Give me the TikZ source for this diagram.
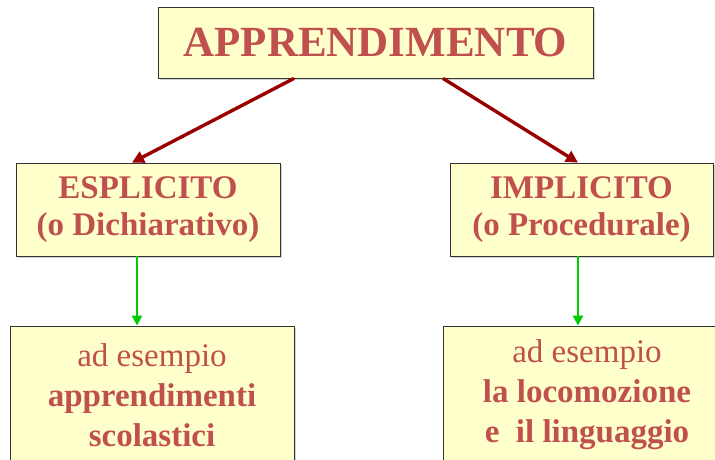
\documentclass[tikz,border=0pt]{standalone}
\usepackage{fontspec}
\setmainfont{Liberation Serif}
\usetikzlibrary{shadows,arrows.meta}
\definecolor{boxfill}{HTML}{FFFFCC}
\definecolor{textred}{HTML}{C0504D}
\definecolor{darkred}{HTML}{990000}
\definecolor{arrowgreen}{HTML}{00CC00}

\begin{document}
\begin{tikzpicture}[x=1pt,y=-1pt,
    box/.style={draw=black!80,fill=boxfill,line width=0.8pt,text=textred,align=center,inner sep=0pt,
      drop shadow={shadow xshift=1.5pt,shadow yshift=-1.5pt,opacity=0.35}},
    redarrow/.style={draw=darkred,line width=3.4pt,-{Triangle[length=12pt,width=12pt]}},
    greenarrow/.style={draw=arrowgreen,line width=2.6pt,-{Triangle[length=10pt,width=10pt]}}]
		\useasboundingbox (0,0) rectangle (715,459);
		\clip (0,0) rectangle (715,459);
		
		\node[box,minimum width=435pt,minimum height=71pt,font=\fontsize{43}{48}\selectfont\bfseries] (appr) at (375.5,42.5) {APPRENDIMENTO};
		
		\node[box,minimum width=264pt,minimum height=93pt,font=\fontsize{33}{37}\selectfont\bfseries] (espl) at (148,209.5) {ESPLICITO\\(o Dichiarativo)};
		\node[box,minimum width=263pt,minimum height=93pt,font=\fontsize{33}{37}\selectfont\bfseries] (impl) at (581.5,209.5) {IMPLICITO\\(o Procedurale)};
		
		\node[box,minimum width=284pt,minimum height=138pt,font=\fontsize{33}{40}\selectfont] (esem1) at (152,395) {ad esempio\\\textbf{apprendimenti}\\\textbf{scolastici}};
		\node[box,minimum width=288pt,minimum height=138pt,font=\fontsize{33}{40}\selectfont] (esem2) at (587,395) {ad esempio\\\textbf{la locomozione}\\\textbf{e~~il linguaggio}};
		
		\draw[redarrow] ([xshift=-81.5pt]appr.south) -- ([xshift=-16pt]espl.north);
		\draw[redarrow] ([xshift=67.5pt]appr.south) -- ([xshift=-3.5pt]impl.north);
		
		\draw[greenarrow] ([xshift=-11pt]espl.south) -- ([xshift=-11pt]espl.south |- esem1.north);
		\draw[greenarrow] ([xshift=-3.5pt]impl.south) -- ([xshift=-3.5pt]impl.south |- esem2.north);
\end{tikzpicture}
\end{document}
